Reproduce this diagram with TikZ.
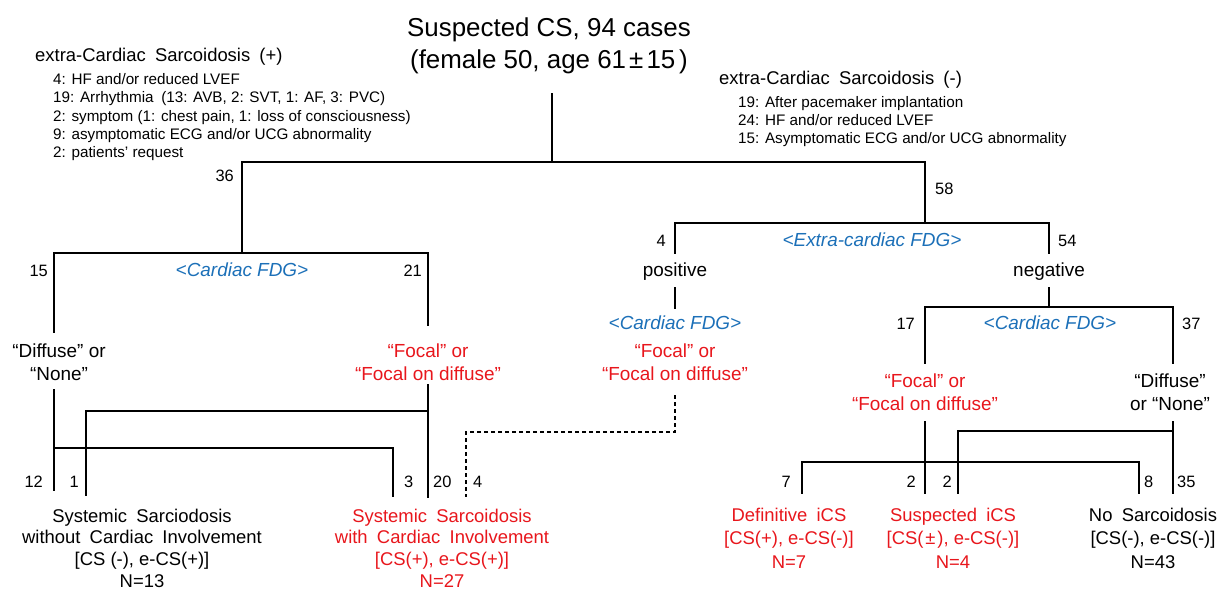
\documentclass[tikz,border=0pt]{standalone}
\usepackage{fontspec}
\setmainfont{Liberation Sans}
\definecolor{cred}{RGB}{232,22,28}
\definecolor{cblue}{RGB}{28,112,184}
\newcommand{\wsp}{\hspace{0.5em}}
\begin{document}
\begin{tikzpicture}[x=1bp,y=-1bp,
  every node/.style={inner sep=0pt,text height=0.72em,text depth=0pt},
  ln/.style={line width=1.8bp,line cap=rect},
  dln/.style={line width=1.6bp,dash pattern=on 4bp off 3bp},
  title/.style={font=\fontsize{26}{33}\selectfont,align=center,anchor=base},
  head/.style={font=\fontsize{18.5}{22}\selectfont,anchor=west},
  sub/.style={font=\fontsize{15.3}{18.3}\selectfont,align=left,anchor=base west},
  num/.style={font=\fontsize{16.5}{19}\selectfont},
  mid/.style={font=\fontsize{19}{23}\selectfont,align=center},
  mmid/.style={font=\fontsize{19}{23}\selectfont,align=center,anchor=base},
  fdg/.style={font=\fontsize{19}{23}\selectfont\itshape,text=cblue},
  botl/.style={font=\fontsize{18.5}{21.7}\selectfont,align=center,anchor=base},
  botr/.style={font=\fontsize{18.5}{23.3}\selectfont,align=center,anchor=base},
  rd/.style={text=cred}]
\useasboundingbox (0,0) rectangle (1224,593);

% ---------- texts ----------
\node[title] (title) at (549,69) {Suspected CS, 94 cases\\(female 50, age 61\hspace{0.12em}±\hspace{0.12em}15\hspace{0.15em})};
\node[head] (hl) at (35,58) {extra-Cardiac\wsp Sarcoidosis\wsp (+)};
\node[sub] (sl) at (53,157.5) {4: HF and/or reduced LVEF\\19: Arrhythmia\wsp (13: AVB, 2: SVT, 1: AF, 3: PVC)\\2: symptom (1: chest pain, 1: loss of consciousness)\\9: asymptomatic ECG and/or UCG abnormality\\2: patients’ request};
\node[head] (hr) at (719,81) {extra-Cardiac\wsp Sarcoidosis\wsp (-)};
\node[sub] (sr) at (738,143.5) {19: After pacemaker implantation\\24: HF and/or reduced LVEF\\15: Asymptomatic ECG and/or UCG abnormality};

\node[fdg] (fdgL) at (242,273) {<Cardiac FDG>};
\node[mmid] (diffL) at (59,380) {“Diffuse” or\\“None”};
\node[mmid,rd] (focL) at (428,380) {“Focal” or\\“Focal on diffuse”};

\node[fdg] (fdgX) at (872,243) {<Extra-cardiac FDG>};
\node[mid] (pos) at (675,273) {positive};
\node[mid] (neg) at (1049,273) {negative};
\node[fdg] (fdgP) at (675,326) {<Cardiac FDG>};
\node[mmid,rd] (focP) at (675,380) {“Focal” or\\“Focal on diffuse”};
\node[fdg] (fdgN) at (1050,326) {<Cardiac FDG>};
\node[mmid,rd] (focN) at (925,410) {“Focal” or\\“Focal on diffuse”};
\node[mmid] (diffN) at (1170,410) {“Diffuse”\\or “None”};

\node[botl] (r1) at (142,587) {Systemic\wsp Sarciodosis\\without\wsp Cardiac\wsp Involvement\\{}[CS (-), e-CS(+)]\\N=13};
\node[botl,rd] (r2) at (442,587) {Systemic\wsp Sarcoidosis\\with\wsp Cardiac\wsp Involvement\\{}[CS(+), e-CS(+)]\\N=27};
\node[botr,rd] (r3) at (789,568) {Definitive\wsp iCS\\{}[CS(+), e-CS(-)]\\N=7};
\node[botr,rd] (r4) at (953,568) {Suspected\wsp iCS\\{}[CS(\hspace{0.1em}±\hspace{0.1em}), e-CS(-)]\\N=4};
\node[botr] (r5) at (1153,568) {No\wsp Sarcoidosis\\{}[CS(-), e-CS(-)]\\N=43};

% ---------- numbers ----------
\node[num,anchor=east] (n36) at (234,178) {36};
\node[num,anchor=west] (n58) at (935,191) {58};
\node[num,anchor=east] (n15) at (48,273) {15};
\node[num,anchor=east] (n21) at (422,273) {21};
\node[num,anchor=east] (n4a) at (666,243) {4};
\node[num,anchor=west] (n54) at (1058,243) {54};
\node[num,anchor=east] (n17) at (915,326) {17};
\node[num,anchor=west] (n37) at (1182,326) {37};
\node[num,anchor=east] (n12) at (43,484) {12};
\node[num,anchor=east] (n1) at (79,484) {1};
\node[num,anchor=west] (n3) at (404,484) {3};
\node[num,anchor=west] (n20) at (433,484) {20};
\node[num,anchor=west] (n4b) at (473,484) {4};
\node[num,anchor=east] (n7) at (791,484) {7};
\node[num,anchor=east] (n2a) at (916,484) {2};
\node[num,anchor=east] (n2b) at (952,484) {2};
\node[num,anchor=west] (n8) at (1144,484) {8};
\node[num,anchor=west] (n35) at (1177,484) {35};

% ---------- junction coordinates ----------
\coordinate (t0) at (552,94);
\coordinate (t1) at (552,162);
\coordinate (hL) at (242,162);
\coordinate (hR) at (925,162);
\coordinate (L0) at (242,253);
\coordinate (R0) at (925,223);
% left cardiac FDG
\coordinate (La) at (54,253);
\coordinate (Lb) at (428,253);
\coordinate (La1) at (54,332);
\coordinate (Lb1) at (428,325);
\coordinate (La2) at (54,390);
\coordinate (La3) at (54,490);
\coordinate (Lc) at (54,448);
\coordinate (Lc1) at (393,448);
\coordinate (Lc2) at (393,496);
\coordinate (Lb2) at (428,385);
\coordinate (Lb3) at (428,497);
\coordinate (Ld) at (428,411);
\coordinate (Ld1) at (86,411);
\coordinate (Ld2) at (86,495);
% extra-cardiac FDG
\coordinate (Xa) at (675,223);
\coordinate (Xb) at (1049,223);
\coordinate (Xa1) at (675,253);
\coordinate (Xb1) at (1049,253);
\coordinate (Pa) at (675,288);
\coordinate (Pb) at (675,308);
\coordinate (Pc) at (675,395);
\coordinate (Pd) at (675,432);
\coordinate (Pe) at (466,432);
\coordinate (Pf) at (466,497);
\coordinate (Na) at (1049,288);
\coordinate (Nb) at (1049,307);
\coordinate (Nl) at (925,307);
\coordinate (Nr) at (1173,307);
\coordinate (Nl1) at (925,363);
\coordinate (Nr1) at (1173,363);
\coordinate (Nl2) at (925,422);
\coordinate (Nl3) at (925,493);
\coordinate (Nr2) at (1173,422);
\coordinate (Nr3) at (1173,493);
\coordinate (Ne) at (1173,431);
\coordinate (Ne1) at (958,431);
\coordinate (Ne2) at (958,493);
\coordinate (Nf) at (802,462);
\coordinate (Nf1) at (1139,462);
\coordinate (Nf2) at (802,493);
\coordinate (Nf3) at (1139,493);

% ---------- connectors ----------
\draw[ln] (t0) -- (t1);
\draw[ln] (L0) -- (hL) -- (hR) -- (R0);
\draw[ln] (La1) -- (La) -- (Lb) -- (Lb1);
\draw[ln] (La2) -- (La3);
\draw[ln] (Lc) -- (Lc1) -- (Lc2);
\draw[ln] (Lb2) -- (Lb3);
\draw[ln] (Ld) -- (Ld1) -- (Ld2);
\draw[ln] (Xa1) -- (Xa) -- (Xb) -- (Xb1);
\draw[ln] (Pa) -- (Pb);
\draw[dln] (Pc) -- (Pd) -- (Pe) -- (Pf);
\draw[ln] (Na) -- (Nb);
\draw[ln] (Nl1) -- (Nl) -- (Nr) -- (Nr1);
\draw[ln] (Nl2) -- (Nl3);
\draw[ln] (Nr2) -- (Nr3);
\draw[ln] (Ne) -- (Ne1) -- (Ne2);
\draw[ln] (Nf2) -- (Nf) -- (Nf1) -- (Nf3);
\end{tikzpicture}
\end{document}
